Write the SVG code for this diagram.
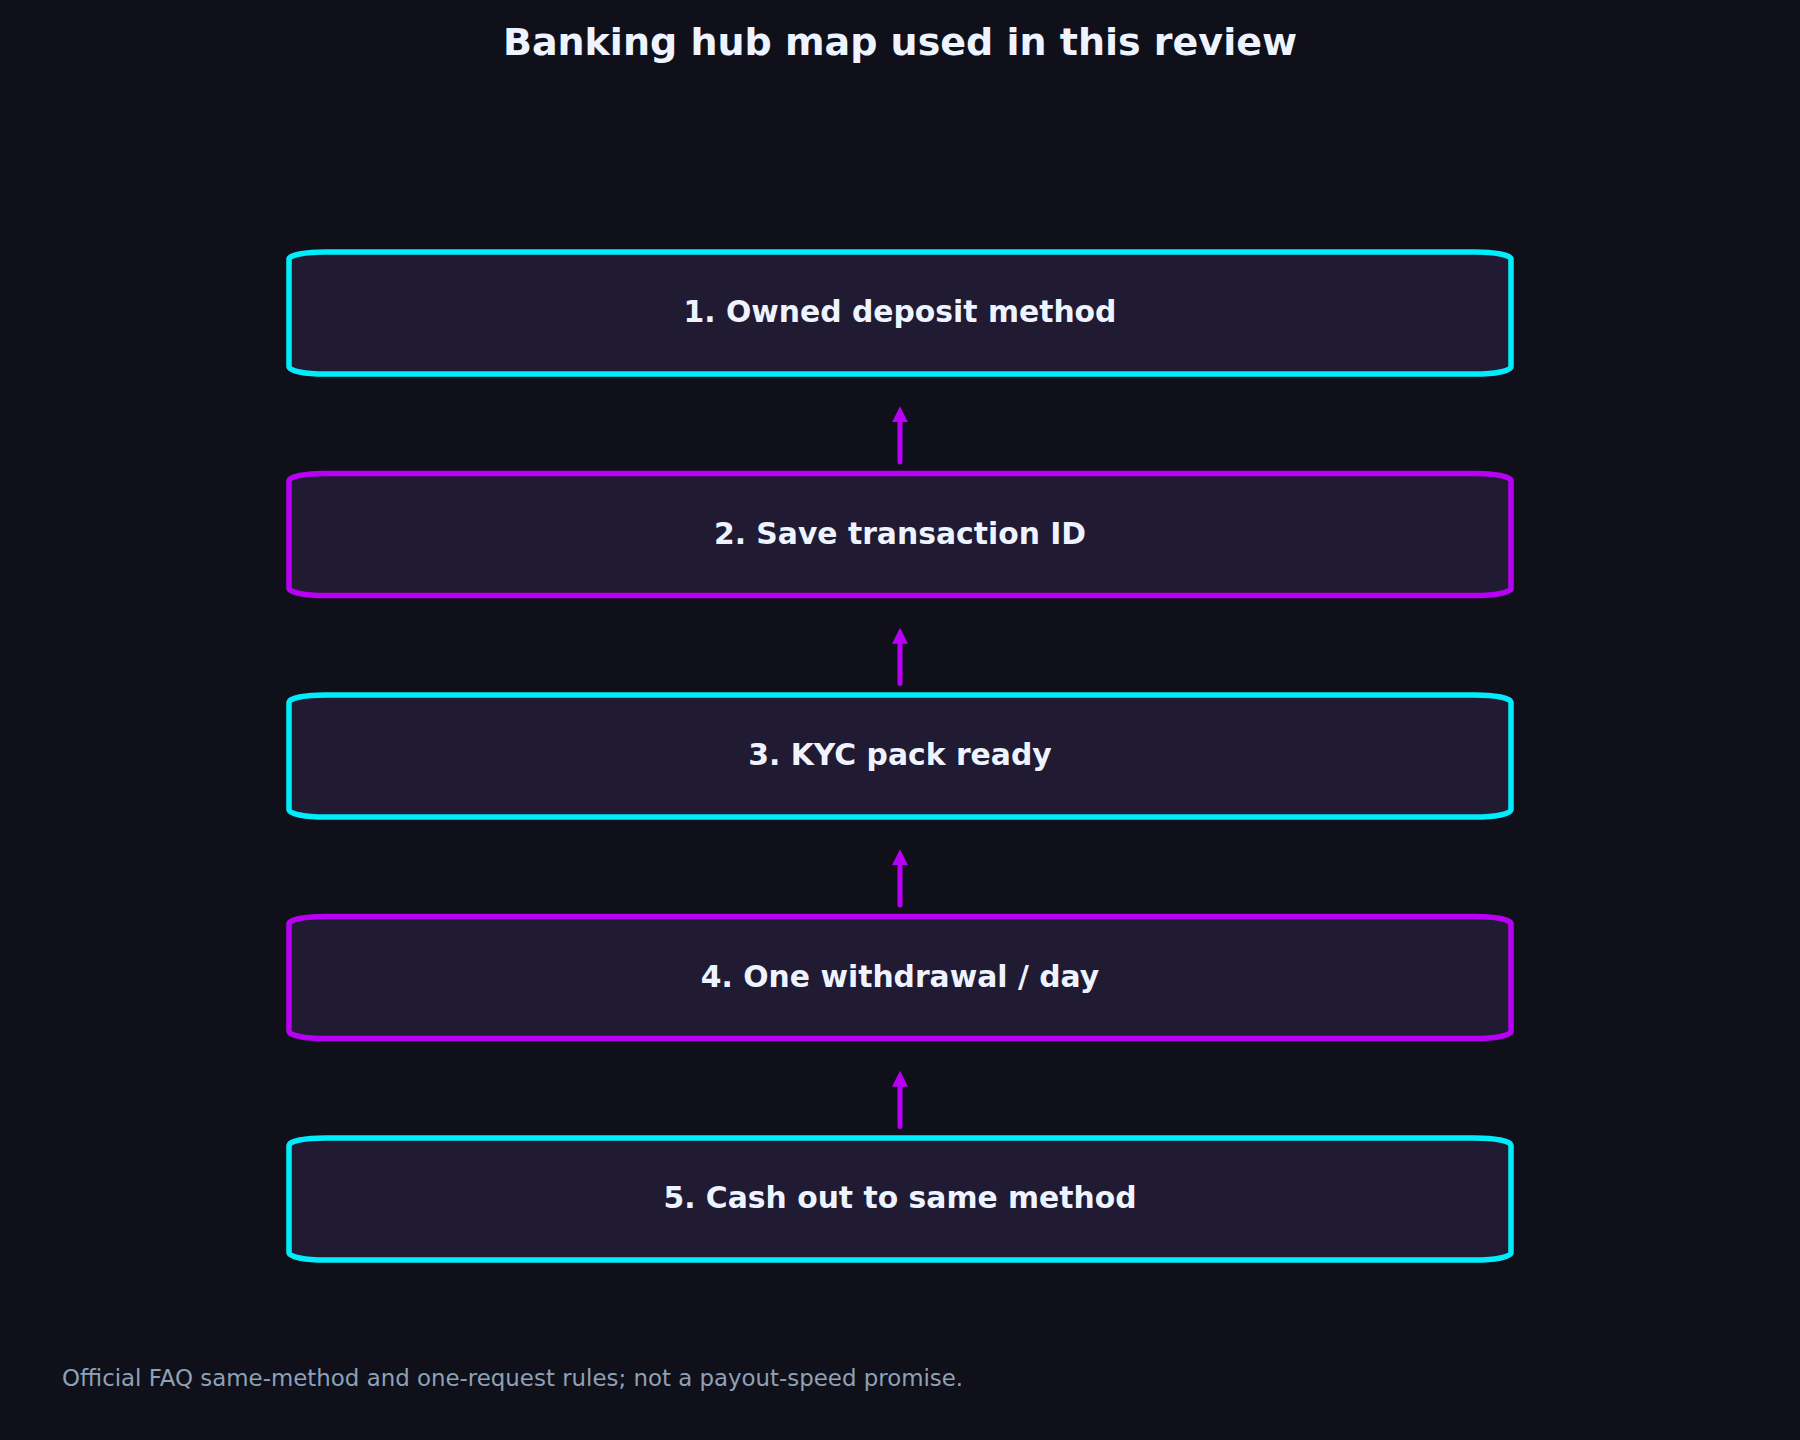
<svg xmlns="http://www.w3.org/2000/svg" width="1800" height="1440" viewBox="0 0 1800 1440">
<defs>
<style>
.box{fill:#211a33;stroke-width:5.5}
.cy{stroke:#00eefc}
.pu{stroke:#b800f5}
.lbl{font-family:"DejaVu Sans",sans-serif;font-weight:bold;font-size:29.8px;fill:#eef4ff;text-anchor:middle}
.title{font-family:"DejaVu Sans",sans-serif;font-weight:bold;font-size:38px;fill:#eef4ff;text-anchor:middle}
.foot{font-family:"DejaVu Sans",sans-serif;font-size:22.9px;fill:#8ea1b6}
.conn{stroke:#b800f5;stroke-width:5;fill:none;stroke-linecap:round}
</style>
<marker id="ah" viewBox="0 0 10 10" refX="2" refY="5" markerWidth="3.2" markerHeight="3.2" orient="auto" markerUnits="strokeWidth">
<path d="M0,0 L10,5 L0,10 z" fill="#b800f5"/>
</marker>
</defs>
<rect width="1800" height="1440" fill="#0f101a"/>
<text class="title" x="900" y="55">Banking hub map used in this review</text>
<g id="n1"><rect class="box cy" x="289" y="252" width="1222" height="122" rx="36" ry="7"/><text class="lbl" x="900" y="322">1. Owned deposit method</text></g>
<g id="n2"><rect class="box pu" x="289" y="473.5" width="1222" height="122" rx="36" ry="7"/><text class="lbl" x="900" y="543.5">2. Save transaction ID</text></g>
<g id="n3"><rect class="box cy" x="289" y="695" width="1222" height="122" rx="36" ry="7"/><text class="lbl" x="900" y="765">3. KYC pack ready</text></g>
<g id="n4"><rect class="box pu" x="289" y="916.5" width="1222" height="122" rx="36" ry="7"/><text class="lbl" x="900" y="986.5">4. One withdrawal / day</text></g>
<g id="n5"><rect class="box cy" x="289" y="1138" width="1222" height="122" rx="36" ry="7"/><text class="lbl" x="900" y="1208">5. Cash out to same method</text></g>
<g id="connectors">
<line class="conn" x1="900" y1="462" x2="900" y2="419" marker-end="url(#ah)"/>
<line class="conn" x1="900" y1="683.5" x2="900" y2="640.5" marker-end="url(#ah)"/>
<line class="conn" x1="900" y1="905" x2="900" y2="862" marker-end="url(#ah)"/>
<line class="conn" x1="900" y1="1126.5" x2="900" y2="1083.5" marker-end="url(#ah)"/>
</g>
<text class="foot" x="62" y="1386">Official FAQ same-method and one-request rules; not a payout-speed promise.</text>
</svg>
